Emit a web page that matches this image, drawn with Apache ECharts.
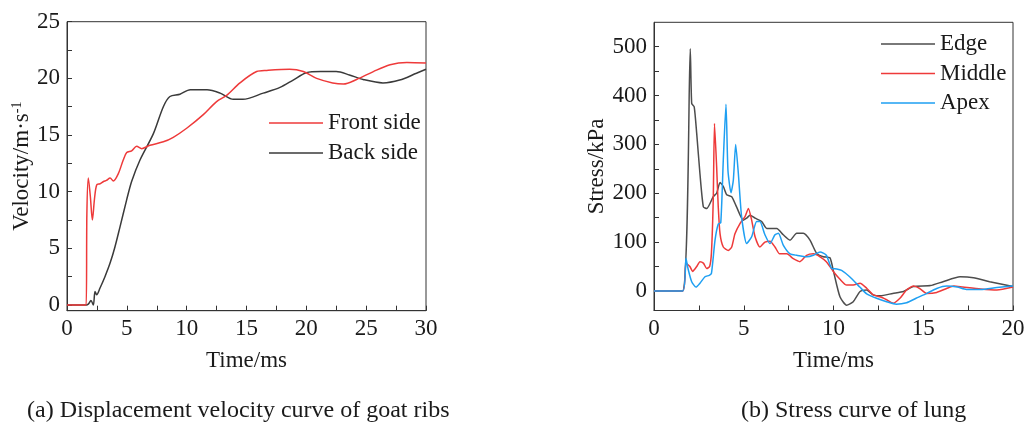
<!DOCTYPE html>
<html>
<head>
<meta charset="utf-8">
<title>velocity and stress</title>
<script src="https://cdn.jsdelivr.net/npm/echarts@6.0.0/dist/echarts.min.js"></script>
<style>
  html, body { margin: 0; padding: 0; background: #fff; }
  #main { width: 1027px; height: 426px; }
</style>
</head>
<body>
<div id="main"></div>
<script>
// (a) 肋骨位移速度, 时间 ms / 速度 m/s
var frontT = [0, 1.6, 1.66, 1.78, 1.95, 2.12, 2.3, 2.48, 2.76, 3.05, 3.3, 3.6, 3.87, 4.29, 4.7, 4.99, 5.4, 5.82, 6.24, 6.93, 8.05, 8.88, 10.0, 11.39, 12.5, 13.34, 14.45, 15.85, 16.7, 18.6, 19.75, 20.86, 22.2, 23.1, 24.2, 25.6, 27.0, 28.4, 30];
var frontV = [0, 0, 8.0, 11.2, 9.6, 7.5, 9.4, 10.6, 10.7, 10.9, 11.0, 11.2, 10.95, 11.6, 12.8, 13.45, 13.6, 14.0, 13.8, 14.1, 14.4, 14.8, 15.6, 16.8, 17.95, 18.5, 19.6, 20.6, 20.7, 20.8, 20.6, 20.0, 19.6, 19.5, 19.9, 20.6, 21.2, 21.4, 21.35];
var backT = [0, 1.6, 1.8, 2.0, 2.2, 2.34, 2.48, 2.76, 3.17, 3.6, 4.0, 4.43, 4.99, 5.4, 6.1, 7.21, 8.05, 8.6, 9.44, 10.3, 11.7, 12.8, 13.9, 14.7, 16.4, 17.8, 18.9, 20.0, 21.2, 22.5, 23.6, 24.75, 26.4, 27.8, 29.2, 30];
var backV = [0, 0, 0.1, 0.4, 0, 1.2, 0.9, 1.5, 2.5, 3.7, 5.1, 6.9, 9.3, 10.9, 12.8, 15.1, 17.5, 18.4, 18.6, 19.0, 19.0, 18.7, 18.15, 18.15, 18.7, 19.2, 19.85, 20.5, 20.6, 20.6, 20.3, 19.9, 19.6, 19.85, 20.45, 20.8];

// (b) 肺应力, 时间 ms / 应力 kPa
var edgeT = [0, 1.58, 2.02, 2.1, 2.24, 2.38, 2.56, 2.75, 2.94, 3.3, 3.49, 3.68, 3.86, 4.05, 4.33, 4.6, 4.97, 5.16, 5.35, 5.63, 6.0, 6.28, 6.84, 7.2, 7.58, 7.95, 8.32, 8.69, 9.06, 9.43, 9.8, 10.0, 10.36, 10.73, 11.1, 11.48, 11.85, 12.2, 12.6, 13.3, 13.9, 14.45, 15.4, 16.1, 17.05, 17.8, 18.7, 20];
var edgeS = [0, 0, 496, 384, 377, 322, 240, 172, 169, 193, 200, 222, 214, 197, 193, 172, 145, 149, 155, 149, 142, 128, 128, 115, 104, 118, 118, 104, 77, 70, 68, 40, -12, -29, -22, -1, 2, -8, -10, -5, -1, 9, 11, 19, 29, 27, 19, 9];
var middleT = [0, 1.6, 1.78, 2.0, 2.15, 2.38, 2.56, 2.75, 2.94, 3.1, 3.2, 3.3, 3.37, 3.49, 3.58, 3.68, 3.86, 4.14, 4.33, 4.51, 4.79, 5.07, 5.26, 5.44, 5.63, 5.9, 6.18, 6.46, 6.74, 7.0, 7.4, 7.76, 8.13, 8.5, 8.88, 9.25, 9.6, 9.99, 10.36, 10.73, 11.1, 11.48, 11.85, 12.22, 12.6, 12.96, 13.33, 13.7, 14.07, 14.45, 14.8, 15.2, 15.75, 16.3, 16.7, 17.2, 18.2, 19.1, 20];
var middleS = [0, 0, 57, 50, 40, 50, 60, 57, 46, 50, 78, 186, 343, 254, 172, 117, 90, 83, 90, 117, 138, 152, 169, 145, 111, 90, 100, 102, 90, 76, 76, 66, 60, 73, 76, 70, 60, 40, 24, 12, 12, 16, 5.5, -8, -12, -18, -25, -15, 2, 10, 5, -5, -3, 5, 10, 8, 4, 2, 8];
var apexT = [0, 1.6, 1.78, 1.9, 2.1, 2.34, 2.56, 2.84, 3.08, 3.2, 3.4, 3.58, 3.72, 3.86, 4.01, 4.12, 4.29, 4.42, 4.55, 4.7, 4.88, 5.16, 5.44, 5.72, 5.9, 6.18, 6.46, 6.74, 6.93, 7.2, 7.58, 7.95, 8.5, 8.88, 9.25, 9.6, 9.9, 10.18, 10.45, 10.9, 11.48, 11.85, 12.4, 12.96, 13.5, 14.07, 14.6, 15.2, 15.75, 16.3, 16.9, 17.4, 18.2, 19.1, 20];
var apexS = [0, 0, 67, 45, 19, 8, 16, 29, 32, 36, 104, 137, 140, 268, 382, 247, 201, 227, 300, 240, 152, 97, 111, 142, 142, 115, 97, 115, 118, 94, 76, 73, 70, 73, 80, 73, 46, 45, 42, 29, 7.5, -6, -15, -22, -27, -24, -15, -5, 5, 10, 8, 3, 3, 7, 10];

// 刻度
var timeTicksA = [0, 2.5, 5, 7.5, 10, 12.5, 15, 17.5, 20, 22.5, 25, 27.5, 30];
var timeLabelsA = [0, 5, 10, 15, 20, 25, 30];
var velTicks = [0, 2.5, 5, 7.5, 10, 12.5, 15, 17.5, 20, 22.5, 25];
var velLabels = [0, 5, 10, 15, 20, 25];
var timeTicksB = [0, 2.5, 5, 7.5, 10, 12.5, 15, 17.5, 20];
var timeLabelsB = [0, 5, 10, 15, 20];
var stressTicks = [0, 50, 100, 150, 200, 250, 300, 350, 400, 450, 500];
var stressLabels = [0, 100, 200, 300, 400, 500];

var FONT = 'Liberation Serif';
var TXT = '#1a1a1a';
var AXIS = '#333333';

function pairs(t, v) {
  var arr = [];
  for (var i = 0; i < t.length; i++) {
    arr.push([t[i], v[i]]);
  }
  return arr;
}

function axis(gridIndex, min, max, ticks, labels, name, gap) {
  return {
    type: 'value',
    gridIndex: gridIndex,
    min: min,
    max: max,
    name: name,
    nameLocation: 'middle',
    nameGap: gap,
    nameTextStyle: {
      fontSize: 23, fontFamily: FONT, color: TXT,
      rich: { sup: { fontSize: 14, fontFamily: FONT, color: TXT, verticalAlign: 'top', lineHeight: 14 } }
    },
    axisLine: { show: true, onZero: false, lineStyle: { color: AXIS, width: 1 } },
    axisTick: { show: true, inside: true, length: 5, customValues: ticks, lineStyle: { color: AXIS, width: 1 } },
    axisLabel: { customValues: labels, fontSize: 23, fontFamily: FONT, color: TXT, margin: 7 },
    splitLine: { show: false }
  };
}

function line(name, data, color, xi, smooth, z) {
  return {
    name: name,
    type: 'line',
    xAxisIndex: xi,
    yAxisIndex: xi,
    data: data,
    symbol: 'none',
    smooth: smooth,
    z: z,
    color: color,
    lineStyle: { color: color, width: 1.5 }
  };
}

var myChart = echarts.init(document.getElementById('main'), null, { renderer: 'canvas' });
var legendText = { fontSize: 23, fontFamily: FONT, color: TXT, lineHeight: 24 };

var option = {
  animation: false,
  backgroundColor: '#ffffff',
  grid: [
    { left: 67, top: 21.7, width: 359, height: 289, show: true, borderColor: AXIS, borderWidth: 1, outerBoundsMode: 'none' },
    { left: 654, top: 22.3, width: 359, height: 288.2, show: true, borderColor: AXIS, borderWidth: 1, outerBoundsMode: 'none' }
  ],
  xAxis: [
    axis(0, 0, 30, timeTicksA, timeLabelsA, 'Time/ms', 39),
    axis(1, 0, 20, timeTicksB, timeLabelsB, 'Time/ms', 39)
  ],
  yAxis: [
    axis(0, -0.5, 25, velTicks, velLabels, 'Velocity/m·s{sup|-1}', 30),
    axis(1, -40, 550, stressTicks, stressLabels, 'Stress/kPa', 44)
  ],
  legend: [
    {
      data: ['Front side', 'Back side'],
      orient: 'vertical', left: 264, top: 106,
      icon: 'rect', itemWidth: 54, itemHeight: 1.5, itemGap: 6,
      selectedMode: false, textStyle: legendText
    },
    {
      data: ['Edge', 'Middle', 'Apex'],
      orient: 'vertical', left: 876, top: 27,
      icon: 'rect', itemWidth: 54, itemHeight: 1.5, itemGap: 5.5,
      selectedMode: false, textStyle: legendText
    }
  ],
  graphic: [
    { type: 'text', left: 27, top: 399, style: { text: '(a) Displacement velocity curve of goat ribs', font: '24px "Liberation Serif"', fill: TXT } },
    { type: 'text', left: 741, top: 399, style: { text: '(b) Stress curve of lung', font: '24px "Liberation Serif"', fill: TXT } }
  ],
  series: [
    line('Back side', pairs(backT, backV), '#3a3a3a', 0, 0.3, 2),
    line('Front side', pairs(frontT, frontV), '#ee3a3a', 0, 0.3, 3),
    line('Edge', pairs(edgeT, edgeS), '#4d4d4d', 1, 0.2, 2),
    line('Middle', pairs(middleT, middleS), '#ee3a3a', 1, 0.2, 3),
    line('Apex', pairs(apexT, apexS), '#1e9ff2', 1, 0.2, 4)
  ]
};

myChart.setOption(option);
</script>
</body>
</html>
